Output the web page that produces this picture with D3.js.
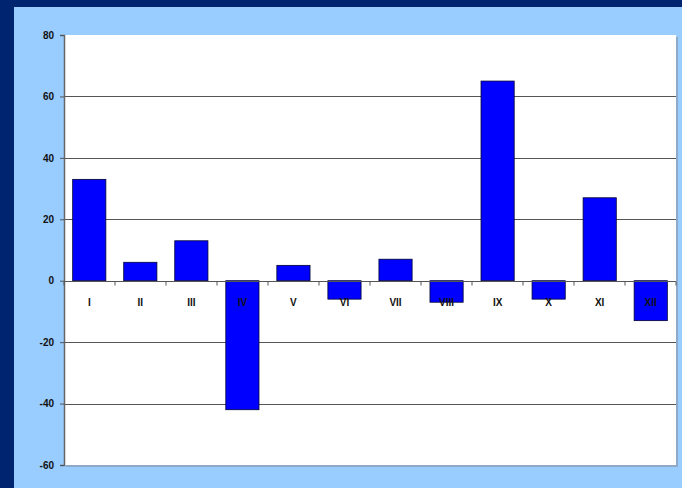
<!DOCTYPE html>
<html>
<head>
<meta charset="utf-8">
<script src="https://cdn.jsdelivr.net/npm/d3@7/dist/d3.min.js"></script>
<style>
  html, body { margin: 0; padding: 0; background: #012470; }
  svg { display: block; }
  text { font-family: "Liberation Sans", Arial, sans-serif; font-weight: bold; font-size: 10px; fill: #111; }
</style>
</head>
<body>
<svg id="chart" width="682" height="488"></svg>
<script>
// Monthly values, one per Roman-numeral month
const categories = ["I", "II", "III", "IV", "V", "VI", "VII", "VIII", "IX", "X", "XI", "XII"];
const values = [33, 6, 13, -42, 5, -6, 7, -7, 65, -6, 27, -13];
const yTicks = [-60, -40, -20, 0, 20, 40, 60, 80];

const svg = d3.select("#chart");
const W = 682, H = 488;

// frame: navy border with light-blue panel
svg.append("rect").attr("x", 0).attr("y", 0).attr("width", W).attr("height", H).attr("fill", "#012470");
svg.append("rect").attr("x", 14).attr("y", 7).attr("width", W - 14).attr("height", H - 7).attr("fill", "#99CCFF");

const plot = { left: 64, top: 35, right: 676, bottom: 465 };

const x = d3.scaleBand().domain(categories).range([plot.left, plot.right]).paddingInner(0.35).paddingOuter(0.17);
const y = d3.scaleLinear().domain([-60, 80]).range([plot.bottom, plot.top]);

// plot area with soft shadow
svg.append("rect")
  .attr("x", plot.left + 2).attr("y", plot.top + 2)
  .attr("width", plot.right - plot.left).attr("height", plot.bottom - plot.top)
  .attr("fill", "#8a9bb0").attr("opacity", 0.7);
svg.append("rect")
  .attr("x", plot.left).attr("y", plot.top)
  .attr("width", plot.right - plot.left).attr("height", plot.bottom - plot.top)
  .attr("fill", "#ffffff");

// horizontal gridlines
svg.append("g").selectAll("line")
  .data(yTicks.filter(d => d !== 80 && d !== -60 && d !== 0))
  .join("line")
  .attr("x1", plot.left).attr("x2", plot.right)
  .attr("y1", d => Math.round(y(d)) + 0.5).attr("y2", d => Math.round(y(d)) + 0.5)
  .attr("stroke", "#555").attr("stroke-width", 1.2);

// bars
svg.append("g").selectAll("rect")
  .data(values)
  .join("rect")
  .attr("x", (d, i) => x(categories[i]))
  .attr("width", x.bandwidth())
  .attr("y", d => y(Math.max(0, d)))
  .attr("height", d => Math.abs(y(d) - y(0)))
  .attr("fill", "#0000FF")
  .attr("stroke", "#000033").attr("stroke-width", 0.8);

// y axis
const yAxis = d3.axisLeft(y).tickValues(yTicks).tickSize(4).tickPadding(6).tickFormat(d => String(d));
const gy = svg.append("g").attr("transform", `translate(${plot.left},0)`).call(yAxis);
gy.select(".domain").attr("stroke", "#666").attr("stroke-width", 1.5);
gy.selectAll(".tick line").attr("stroke", "#555");
gy.selectAll(".tick text").attr("font-size", 10).attr("font-weight", "bold").attr("font-family", "Liberation Sans, Arial, sans-serif").attr("fill", "#222");

// zero line with category boundary ticks
const y0 = Math.round(y(0)) + 0.5;
svg.append("line")
  .attr("x1", plot.left).attr("x2", plot.right)
  .attr("y1", y0).attr("y2", y0)
  .attr("stroke", "#555").attr("stroke-width", 1.2);
const step = (plot.right - plot.left) / categories.length;
svg.append("g").selectAll("line")
  .data(d3.range(categories.length + 1))
  .join("line")
  .attr("x1", i => plot.left + i * step).attr("x2", i => plot.left + i * step)
  .attr("y1", y0).attr("y2", y0 + 4)
  .attr("stroke", "#555");

// category labels
svg.append("g").selectAll("text")
  .data(categories)
  .join("text")
  .attr("x", d => x(d) + x.bandwidth() / 2)
  .attr("y", y0 + 24)
  .attr("text-anchor", "middle")
  .text(d => d);
</script>
</body>
</html>
